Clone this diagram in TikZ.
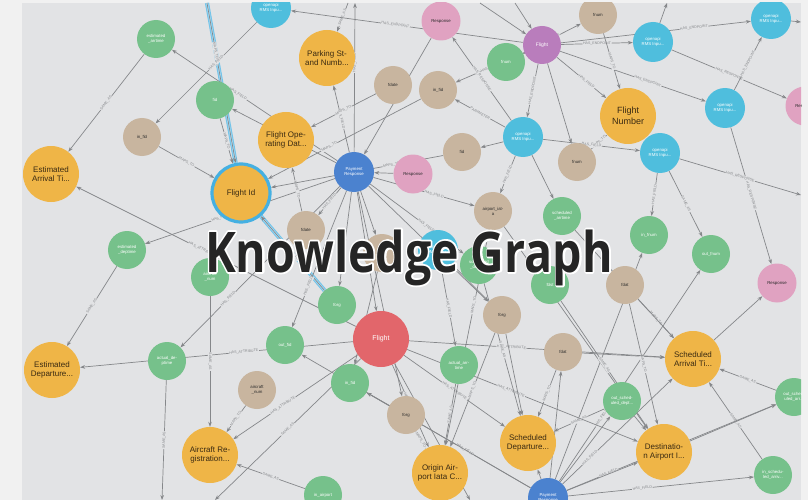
\documentclass[tikz,border=0pt]{standalone}
\usepackage{fontspec}
\setmainfont{Liberation Sans}
\newfontfamily\kgfont{Open Sans}
\usetikzlibrary{arrows.meta}
\pgfdeclarelayer{back}
\pgfdeclarelayer{edges}
\pgfsetlayers{back,edges,main}

\definecolor{bgc}{HTML}{E2E3E5}
\definecolor{marginc}{HTML}{F1F1F1}
\definecolor{orangec}{HTML}{EFB547}
\definecolor{greenc}{HTML}{76C18B}
\definecolor{tanc}{HTML}{C8B59F}
\definecolor{bluec}{HTML}{4FBEDD}
\definecolor{dbluec}{HTML}{4B82CF}
\definecolor{pinkc}{HTML}{E0A2C1}
\definecolor{purplec}{HTML}{B97DBC}
\definecolor{redc}{HTML}{E2666B}
\definecolor{ringc}{HTML}{45B0E2}
\definecolor{edgec}{HTML}{85878A}
\definecolor{attrtext}{HTML}{3A2A12}
\definecolor{darktext}{HTML}{2A2A2A}
\definecolor{kgc}{HTML}{252525}

\newcommand{\kgoutline}[1]{\special{pdf:literal direct 1 Tr 3.6 w 1 j}#1\special{pdf:literal direct 0 Tr}}

\begin{document}
\begin{tikzpicture}[x=1pt,y=-1pt]
        \tikzstyle{attr} = [circle, fill=orangec, minimum size=56pt, inner sep=0pt, align=center, text=attrtext, font=\fontsize{8}{9}\selectfont]
        \tikzstyle{fieldg} = [circle, fill=greenc, minimum size=38pt, inner sep=0pt, align=center, text=white, font=\fontsize{4.3}{5}\selectfont]
        \tikzstyle{fieldt} = [fieldg, fill=tanc, text=darktext]
        \tikzstyle{api} = [fieldg, fill=bluec, minimum size=40pt]
        \tikzstyle{payresp} = [api, fill=dbluec]
        \tikzstyle{resp} = [fieldg, fill=pinkc, text=darktext, minimum size=39pt]
        \tikzstyle{flightsm} = [fieldg, fill=purplec, font=\fontsize{5}{6}\selectfont]
        \tikzstyle{flightbig} = [circle, fill=redc, minimum size=56pt, inner sep=0pt, text=white, font=\fontsize{7}{8}\selectfont]
        \tikzstyle{rel} = [draw=edgec, line width=0.7pt, -{Stealth[length=5pt,width=3.6pt]}]
        \tikzstyle{lbl} = [sloped, fill=bgc, inner sep=0.5pt, text=edgec, font=\fontsize{3.6}{4}\selectfont]
        \tikzstyle{hl} = [draw=ringc!75, line width=4.2pt]
        \tikzstyle{hlin} = [draw=white!55!ringc, line width=2pt]
        \tikzstyle{kgtitle} = [anchor=base, font=\kgfont\bfseries\fontsize{56}{60}\selectfont]

        \useasboundingbox (0,0) rectangle (808,500);
        \begin{pgfonlayer}{back}
            \fill[marginc] (0,0) rectangle (808,500);
            \fill[bgc] (22,3) rectangle (801,500);
        \end{pgfonlayer}

        % nodes
        \begin{scope}
        \clip (22,3) rectangle (801,500);
        \node[attr] (eat) at (51,174) {Estimated\\Arrival Ti...};
        \node[attr, draw=ringc, line width=3.2pt, minimum size=58pt] (fid0) at (241,193) {Flight Id};
        \node[attr] (psn) at (327,58) {Parking St-\\and Numb...};
        \node[attr] (fod) at (286,140) {Flight Ope-\\rating Dat...};
        \node[attr, font=\fontsize{9}{10.5}\selectfont] (fnumber) at (628,116) {Flight\\Number};
        \node[attr] (edt) at (52,370) {Estimated\\Departure...};
        \node[attr] (areg) at (210,455) {Aircraft Re-\\gistration...};
        \node[attr] (oai) at (440,473) {Origin Air-\\port Iata C...};
        \node[attr] (sdt) at (528,443) {Scheduled\\Departure...};
        \node[attr] (sat) at (693,359) {Scheduled\\Arrival Ti...};
        \node[attr] (dai) at (664,452) {Destinatio-\\n Airport I...};

        \node[fieldg] (g1) at (156,39) {estimated\\\_arrtime};
        \node[fieldg] (g2) at (215,100) {fid};
        \node[fieldg] (g3) at (127,250) {estimated\\\_deptime};
        \node[fieldg] (g4) at (210,277) {aircraft\\\_num};
        \node[fieldg] (g5) at (337,305) {forg};
        \node[fieldg] (g6) at (285,345) {out\_fid};
        \node[fieldg] (g7) at (350,383) {in\_fid};
        \node[fieldg] (g8) at (459,365) {actual\_arr-\\time};
        \node[fieldg] (g9) at (167,361) {actual\_de-\\ptime};
        \node[fieldg] (g10) at (562,216) {scheduled\\\_arrtime};
        \node[fieldg] (g11) at (550,285) {fdst};
        \node[fieldg] (g12) at (649,235) {in\_fnum};
        \node[fieldg] (g13) at (711,254) {out\_fnum};
        \node[fieldg] (g14) at (622,401) {out\_sched-\\uled\_dept...};
        \node[fieldg] (g15) at (794,397) {out\_sched-\\uled\_arr...};
        \node[fieldg] (g16) at (773,475) {in\_schedu-\\led\_arriv...};
        \node[fieldg] (g17) at (506,62) {fnum};
        \node[fieldg] (g18) at (323,495) {in\_airport};
        \node[fieldg] (g19) at (479,265) {scheduled\\\_deptime};

        \node[fieldt] (t1) at (142,137) {in\_fid};
        \node[fieldt] (t2) at (393,85) {fdate};
        \node[fieldt] (t3) at (438,90) {in\_fid};
        \node[fieldt] (t4) at (462,152) {fid};
        \node[fieldt] (t5) at (598,15) {fnum};
        \node[fieldt] (t6) at (577,162) {fnum};
        \node[fieldt] (t7) at (493,211) {airport\_iat-\\a};
        \node[fieldt] (t8) at (306,230) {fdate};
        \node[fieldt] (t9) at (382,253) {fdst};
        \node[fieldt] (t10) at (625,285) {fdat};
        \node[fieldt] (t11) at (502,315) {forg};
        \node[fieldt] (t12) at (563,352) {fdat};
        \node[fieldt] (t13) at (257,390) {aircraft\\\_num};
        \node[fieldt] (t14) at (406,415) {forg};

        \node[api] (b1) at (271,8) {openapi\\RMS Inpu...};
        \node[api] (b2) at (653,42) {openapi\\RMS Inpu...};
        \node[api] (b3) at (771,19) {openapi\\RMS Inpu...};
        \node[api] (b4) at (523,137) {openapi\\RMS Inpu...};
        \node[api] (b5) at (725,108) {openapi\\RMS Inpu...};
        \node[api] (b6) at (660,153) {openapi\\RMS Inpu...};
        \node[api] (b7) at (438,250) {openapi\\RMS Inpu...};

        \node[payresp] (p1) at (354,172) {Payment\\Response};
        \node[payresp] (p2) at (548,498) {Payment\\Response};

        \node[resp] (r1) at (441,21) {Response};
        \node[resp] (r2) at (413,174) {Response};
        \node[resp] (r3) at (777,283) {Response};
        \node[resp] (r4) at (805,106) {Response};

        \node[flightsm] (fl1) at (542,45) {Flight};
        \node[flightbig] (fl2) at (381,339) {Flight};
        \end{scope}

        \coordinate (topa) at (207,3);
        \coordinate (topb) at (355,3);
        \coordinate (topc) at (348,3);
        \coordinate (topd) at (480,3);
        \coordinate (tope) at (667,3);
        \coordinate (topf) at (515,3);
        \coordinate (rta) at (801,22);
        \coordinate (rtb) at (801,195);
        \coordinate (bota) at (162,500);
        \coordinate (botb) at (215,500);
        \coordinate (botc) at (470,500);

        % relationships
        \begin{pgfonlayer}{edges}
        \clip (22,3) rectangle (801,500);
        \draw[hl] (topa) -- (fid0);
        \draw[hlin] (topa) -- (fid0);
        \draw[hl] (g5) -- (fid0);
        \draw[hlin] (g5) -- (fid0);
        \draw[rel] (topa) -- node[lbl, pos=0.3]{MAPS\_TO} (fid0);
        \draw[rel] (g5) -- node[lbl]{MAPS\_TO} (fid0);

        \draw[rel] (g1) -- node[lbl]{SAME\_AS} (eat);
        \draw[rel] (b1) -- node[lbl, pos=0.4]{HAS\_FIELD} (t1);
        \draw[rel] (t1) -- node[lbl]{MAPS\_TO} (fid0);
        \draw[rel] (p1) -- node[lbl, pos=0.6]{HAS\_FIELD} (g1);
        \draw[rel] (p1) -- node[lbl, pos=0.6]{HAS\_FIELD} (g2);
        \draw[rel] (g2) -- node[lbl]{MAPS\_TO} (fid0);
        \draw[rel] (p1) -- node[lbl, pos=0.6]{HAS\_FIELD} (g3);
        \draw[rel] (fl2) -- node[lbl, pos=0.55]{HAS\_ATTRIBUTE} (eat);
        \draw[rel] (g3) -- node[lbl]{SAME\_AS} (edt);
        \draw[rel] (fl2) -- node[lbl, pos=0.4]{HAS\_ATTRIBUTE} (edt);
        \draw[rel] (g9) -- node[lbl]{SAME\_AS} (bota);
        \draw[rel] (g4) -- node[lbl]{SAME\_AS} (areg);
        \draw[rel] (t13) -- node[lbl]{MAPS\_TO} (areg);
        \draw[rel] (fl2) -- node[lbl, pos=0.6]{HAS\_ATTRIBUTE} (areg);
        \draw[rel] (g18) -- node[lbl]{SAME\_AS} (areg);
        \draw[rel] (fl2) -- node[lbl]{SAME\_AS} (botb);
        \draw[rel] (p1) -- node[lbl, pos=0.7]{HAS\_FIELD} (g9);
        \draw[rel] (p1) -- node[lbl, pos=0.6]{HAS\_FIELD} (topb);
        \draw[rel] (p1) -- node[lbl]{HAS\_FIELD} (psn);
        \draw[rel] (topc) -- node[lbl]{SAME\_AS} (psn);
        \draw[rel] (fl1) -- node[lbl, pos=0.55]{HAS\_ENDPOINT} (b1);
        \draw[rel] (t2) -- node[lbl]{MAPS\_TO} (fod);
        \draw[rel] (t3) -- node[lbl, pos=0.6]{MAPS\_TO} (fid0);
        \draw[rel] (r1) -- (p1);
        \draw[rel] (fl1) -- node[lbl]{HAS\_FIELD} (t3);
        \draw[rel] (b4) -- node[lbl]{PARAMETER} (t3);
        \draw[rel] (b4) -- node[lbl]{HAS\_RESPONSE} (r1);
        \draw[rel] (fl1) -- node[lbl]{HAS\_ENDPOINT} (b2);
        \draw[rel] (fl1) -- node[lbl, pos=0.7]{HAS\_ENDPOINT} (b3);
        \draw[rel] (fl1) -- node[lbl, pos=0.6]{HAS\_ENDPOINT} (b5);
        \draw[rel] (fl1) -- node[lbl]{HAS\_ENDPOINT} (b4);
        \draw[rel] (fl1) -- node[lbl, pos=0.6]{HAS\_FIELD} (fnumber);
        \draw[rel] (fl1) -- (t6);
        \draw[rel] (fl1) -- (g17);
        \draw[rel] (topd) -- (fl1);
        \draw[rel] (topf) -- (fl1);
        \draw[rel] (t5) -- node[lbl]{MAPS\_TO} (fnumber);
        \draw[rel] (g17) -- node[lbl]{SAME\_AS} (t5);
        \draw[rel] (t6) -- node[lbl]{MAPS\_TO} (fnumber);
        \draw[rel] (b2) -- node[lbl]{HAS\_RESPONSE} (r4);
        \draw[rel] (b2) -- (tope);
        \draw[rel] (b5) -- node[lbl]{HAS\_ENDPOINT} (b3);
        \draw[rel] (b3) -- (rta);
        \draw[rel] (b5) -- node[lbl]{HAS\_RESPONSE} (r3);
        \draw[rel] (b6) -- node[lbl]{HAS\_RESPONSE} (rtb);
        \draw[rel] (b6) -- node[lbl]{HAS\_FIELD} (g12);
        \draw[rel] (b6) -- node[lbl]{SAME\_AS} (g13);
        \draw[rel] (b4) -- node[lbl]{HAS\_FIELD} (b6);
        \draw[rel] (b4) -- (t4);
        \draw[rel] (b4) -- node[lbl]{HAS\_FIELD} (t7);
        \draw[rel] (b4) -- (g10);
        \draw[rel] (sat) -- (r3);
        \draw[rel] (g15) -- node[lbl]{SAME\_AS} (sat);
        \draw[rel] (g16) -- node[lbl]{SAME\_AS} (sat);
        \draw[rel] (p2) -- node[lbl, pos=0.2]{HAS\_FIELD} (g15);
        \draw[rel] (p2) -- node[lbl, pos=0.4]{HAS\_FIELD} (g16);
        \draw[rel] (p2) -- (g14);
        \draw[rel] (p2) -- node[lbl, pos=0.3]{HAS\_FIELD} (g13);
        \draw[rel] (p2) -- (g12);
        \draw[rel] (p2) -- (t12);
        \draw[rel] (p2) -- (sdt);
        \draw[rel] (p2) -- node[lbl, pos=0.25]{HAS\_FIELD} (sat);
        \draw[rel] (p2) -- node[lbl, pos=0.4]{HAS\_FIELD} (g7);
        \draw[rel] (p2) -- (g6);
        \draw[rel] (p2) -- (dai);
        \draw[rel] (t10) -- node[lbl]{MAPS\_TO} (sat);
        \draw[rel] (t12) -- (sat);
        \draw[rel] (t10) -- node[lbl]{MAPS\_TO} (dai);
        \draw[rel] (g14) -- node[lbl]{SAME\_AS} (sdt);
        \draw[rel] (g14) -- (dai);
        \draw[rel] (dai) -- (g15);
        \draw[rel] (g10) -- node[lbl]{SAME\_AS} (sat);
        \draw[rel] (fl2) -- node[lbl, pos=0.45]{HAS\_ATTRIBUTE} (dai);
        \draw[rel] (fl2) -- node[lbl]{HAS\_ATTRIBUTE} (sdt);
        \draw[rel] (fl2) -- node[lbl, pos=0.4]{HAS\_ATTRIBUTE} (sat);
        \draw[rel] (fl2) -- node[lbl]{HAS\_ATTRIBUTE} (oai);
        \draw[rel] (t14) -- node[lbl]{MAPS\_TO} (oai);
        \draw[rel] (g8) -- node[lbl]{SAME\_AS} (oai);
        \draw[rel] (t11) -- node[lbl]{MAPS\_TO} (oai);
        \draw[rel] (t11) -- (sdt);
        \draw[rel] (t8) -- node[lbl]{MAPS\_TO} (fod);
        \draw[rel] (t4) -- node[lbl, pos=0.3]{MAPS\_TO} (fid0);
        \draw[rel] (r2) -- (p1);
        \draw[rel] (t7) -- node[lbl, pos=0.35]{MAPS\_TO} (oai);
        \draw[rel] (t7) -- (dai);
        \draw[rel] (p1) -- node[lbl]{HAS\_FIELD} (t8);
        \draw[rel] (p1) -- node[lbl, pos=0.6]{HAS\_FIELD} (g5);
        \draw[rel] (p1) -- node[lbl, pos=0.7]{HAS\_FIELD} (g6);
        \draw[rel] (p1) -- node[lbl, pos=0.7]{HAS\_FIELD} (t14);
        \draw[rel] (p1) -- node[lbl, pos=0.6]{HAS\_FIELD} (t7);
        \draw[rel] (p1) -- node[lbl, pos=0.6]{HAS\_FIELD} (g19);
        \draw[rel] (p1) -- node[lbl, pos=0.6]{HAS\_FIELD} (t11);
        \draw[rel] (p1) -- (t9);
        \draw[rel] (p1) -- node[lbl, pos=0.6]{HAS\_FIELD} (fl2);
        \draw[rel] (g19) -- node[lbl]{SAME\_AS} (sdt);
        \draw[rel] (g11) -- node[lbl]{SAME\_AS} (dai);
        \draw[rel] (b7) -- node[lbl]{HAS\_FIELD} (g8);
        \draw[rel] (b7) -- (t11);
        \draw[rel] (t9) -- (g7);
        \draw[rel] (fl2) -- (botc);
        \draw[rel] (t12) -- node[lbl]{MAPS\_TO} (sdt);
        \draw[rel] (t14) -- (g7);
        \end{pgfonlayer}

        % title
        \node[kgtitle, text=white] (titlehalo) at (409,272) {\scalebox{0.83}[1]{\kgoutline{Knowledge Graph}}};
        \node[kgtitle, text=kgc] (title) at (409,272) {\scalebox{0.83}[1]{Knowledge Graph}};

    \end{tikzpicture}
\end{document}
